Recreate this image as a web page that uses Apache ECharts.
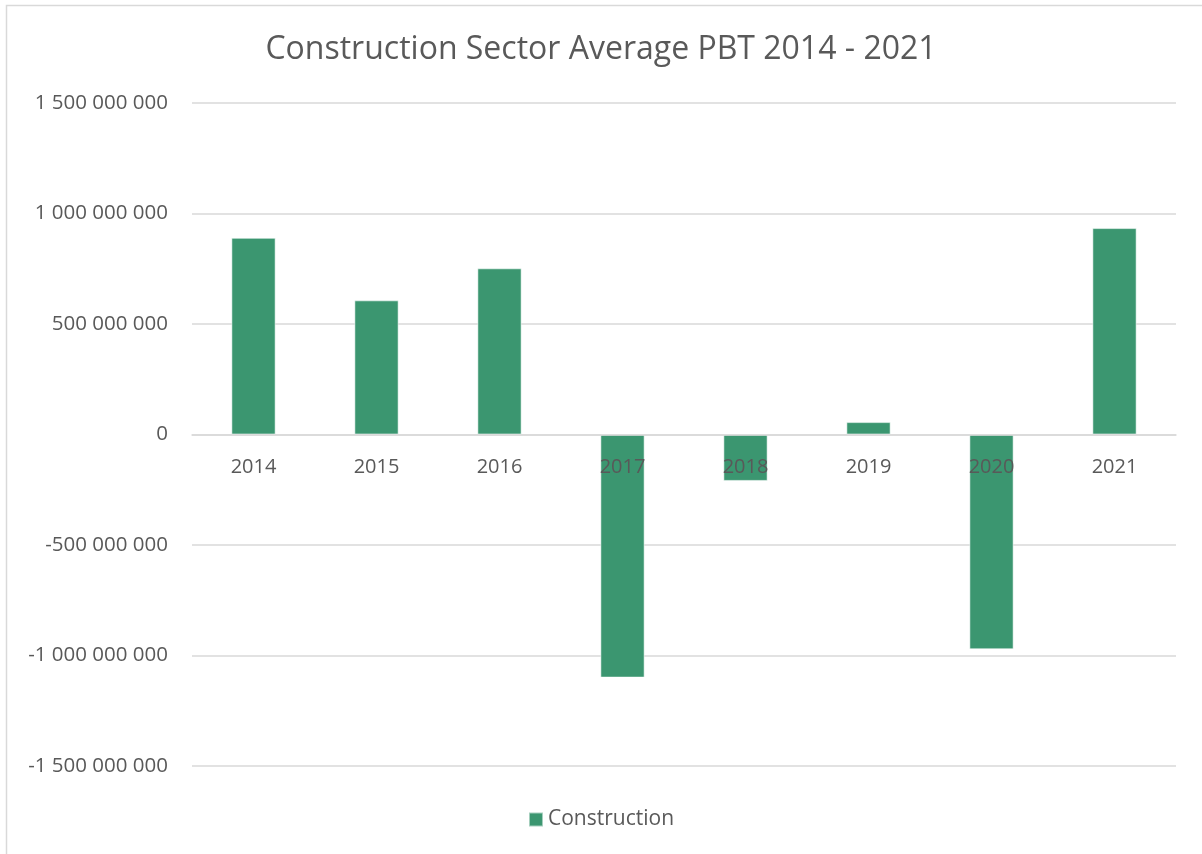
<!DOCTYPE html>
<html>
<head>
<meta charset="utf-8">
<script src="https://cdn.jsdelivr.net/npm/echarts@6/dist/echarts.min.js"></script>
<style>
html,body{margin:0;padding:0;background:#fff;}
#chart{width:1202px;height:854px;}
</style>
</head>
<body>
<div id="chart"></div>
<script>
const titleText = 'Construction Sector Average PBT 2014 - 2021';
const categories = ['2014', '2015', '2016', '2017', '2018', '2019', '2020', '2021'];
const seriesName = 'Construction';
const pbtValues = [890000000, 607000000, 752000000, -1100000000, -210000000, 56000000, -972000000, 934000000];
const yMin = -1500000000;
const yMax = 1500000000;
const yStep = 500000000;

function fmt(v) {
  const neg = v < 0;
  const s = Math.abs(v).toString().replace(/\B(?=(\d{3})+(?!\d))/g, ' ');
  return (neg ? '-' : '') + s;
}

const chart = echarts.init(document.getElementById('chart'));
const FONT = '"Open Sans", sans-serif';
chart.setOption({
  animation: false,
  backgroundColor: '#ffffff',
  title: {
    text: titleText,
    left: 'center',
    top: 29,
    textStyle: { fontFamily: FONT, fontSize: 32, fontWeight: 'normal', color: '#595959' }
  },
  legend: {
    data: [seriesName],
    bottom: 19,
    left: 'center',
    icon: 'rect',
    itemWidth: 14,
    itemHeight: 14,
    itemGap: 6,
    textStyle: { fontFamily: FONT, fontSize: 21, color: '#595959' }
  },
  graphic: [{
    type: 'polyline',
    shape: { points: [[6.5, 900], [6.5, 5.5], [1300, 5.5]] },
    style: { stroke: '#d9d9d9', lineWidth: 1.5, fill: null },
    silent: true
  }],
  grid: { left: 192, right: 26, top: 103, bottom: 88, containLabel: false },
  xAxis: {
    type: 'category',
    data: categories,
    axisLine: { show: true, onZero: false, lineStyle: { color: '#d9d9d9', width: 1.5 } },
    axisTick: { show: false },
    axisLabel: { fontFamily: FONT, fontSize: 20, color: '#595959', margin: 23 },
    z: 5
  },
  yAxis: {
    type: 'value',
    min: yMin,
    max: yMax,
    interval: yStep,
    axisLine: { show: false },
    axisTick: { show: false },
    splitLine: { lineStyle: { color: '#d9d9d9', width: 1.5 } },
    axisLabel: { fontFamily: FONT, fontSize: 20.5, color: '#595959', margin: 24, formatter: fmt }
  },
  series: [{
    name: seriesName,
    type: 'bar',
    data: pbtValues,
    barWidth: '36%',
    itemStyle: { color: '#3b9670', borderColor: 'rgba(255,255,255,0.55)', borderWidth: 1 },
    z: 2
  }]
});
// place the category axis on the zero line
const zeroY = chart.convertToPixel({ yAxisIndex: 0 }, 0);
const bottomY = chart.convertToPixel({ yAxisIndex: 0 }, yMin);
chart.setOption({ xAxis: { offset: zeroY - bottomY } });
</script>
</body>
</html>
